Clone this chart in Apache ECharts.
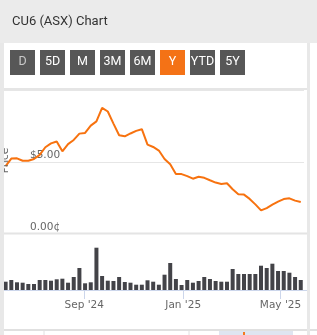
<!DOCTYPE html>
<html>
<head>
<meta charset="utf-8">
<script src="https://cdn.jsdelivr.net/npm/echarts@6/dist/echarts.min.js"></script>
<style>
html,body{margin:0;padding:0;background:#fff;}
#c{width:317px;height:335px;}
</style>
</head>
<body>
<div id="c"></div>
<script>
// ---- data ----
var dates = ['2024-05-27','2024-06-03','2024-06-10','2024-06-17','2024-06-24','2024-07-01','2024-07-08','2024-07-15','2024-07-22','2024-07-29',
  '2024-08-05','2024-08-12','2024-08-19','2024-08-26','2024-09-02','2024-09-09','2024-09-16','2024-09-23','2024-09-30','2024-10-07',
  '2024-10-14','2024-10-21','2024-10-28','2024-11-04','2024-11-11','2024-11-18','2024-11-25','2024-12-02','2024-12-09','2024-12-16',
  '2024-12-23','2024-12-30','2025-01-06','2025-01-13','2025-01-20','2025-01-27','2025-02-03','2025-02-10','2025-02-17','2025-02-24',
  '2025-03-03','2025-03-10','2025-03-17','2025-03-24','2025-03-31','2025-04-07','2025-04-14','2025-04-21','2025-04-28','2025-05-05',
  '2025-05-12','2025-05-19','2025-05-26'];
var prices = [4.69,5.22,5.24,5.07,5.07,5.19,5.48,6.01,6.28,6.41,
  5.73,6.23,6.52,6.96,7.01,7.52,7.81,8.76,8.50,7.66,
  6.85,6.77,6.97,7.15,7.27,6.19,6.03,5.78,5.19,4.83,
  4.14,4.14,4.00,3.82,3.95,3.88,3.71,3.55,3.45,3.50,
  3.08,2.74,2.71,2.41,2.03,1.61,1.77,2.01,2.22,2.40,
  2.45,2.29,2.19];
var volumes = [830,1000,770,730,600,600,1000,1000,930,1070,
  1130,730,1300,2200,670,770,4230,1400,930,900,
  1300,800,730,530,530,970,830,530,1530,2700,
  1100,500,1000,730,900,1300,1100,900,830,830,
  2100,1600,1600,1600,1600,2430,2200,2630,1900,1900,
  1730,1300,1000];
var tickDates = ['2024-09-01','2025-01-01','2025-05-01'];
var tickLabels = ["Sep '24","Jan '25","May '25"];
var priceTicks = [0,5];
var priceTickLabels = ['0.00\u00a2','$5.00'];
var buttons = ['D','5D','M','3M','6M','Y','YTD','5Y'];
var activeButton = 'Y';

function ts(s){var p=s.split('-');return Date.UTC(+p[0],+p[1]-1,+p[2]);}
var tickTs = tickDates.map(ts);
var xMin = ts('2024-05-25');
var xMax = ts('2025-05-30');

var graphics = [
  {type:'rect', shape:{x:0,y:0,width:317,height:43}, style:{fill:'#ebebeb'}, z:10},
  {type:'text', x:12, y:21.5, style:{text:'CU6 (ASX) Chart', fill:'#333', font:'13px Roboto', textVerticalAlign:'middle'}, z:11},
  {type:'line', shape:{x1:4,y1:89,x2:307,y2:89}, style:{stroke:'#dcdcdc', lineWidth:1.5}, z:10},
  {type:'line', shape:{x1:4,y1:233.5,x2:307,y2:233.5}, style:{stroke:'#e4e4e4', lineWidth:2}, z:10},
  {type:'line', shape:{x1:304,y1:290.5,x2:307,y2:290.5}, style:{stroke:'#ccd6eb', lineWidth:1}, z:10},
  {type:'text', x:5, y:160.5, rotation:Math.PI/2, style:{text:'Price', fill:'#666', font:'10.5px "DejaVu Sans"', textAlign:'center', textVerticalAlign:'middle'}, z:10},
  {type:'rect', shape:{x:0,y:43,width:4,height:292}, style:{fill:'#e8e8e8'}, z:20},
  {type:'rect', shape:{x:307,y:43,width:3,height:292}, style:{fill:'#e8e8e8'}, z:20},
  {type:'line', shape:{x1:0,y1:330,x2:317,y2:330}, style:{stroke:'#e0e0e0', lineWidth:2}, z:10},
  {type:'line', shape:{x1:44,y1:330,x2:44,y2:335}, style:{stroke:'#e0e0e0', lineWidth:1}, z:10},
  {type:'line', shape:{x1:189,y1:330,x2:189,y2:335}, style:{stroke:'#e0e0e0', lineWidth:1}, z:10},
  {type:'rect', shape:{x:219,y:331,width:74,height:4}, style:{fill:'#dfe5f1'}, z:10},
  {type:'rect', shape:{x:243,y:332,width:2,height:3}, style:{fill:'#f47a1f'}, z:11}
];
buttons.forEach(function(b,i){
  var x = 10 + i*30;
  graphics.push({type:'rect', shape:{x:x,y:50,width:25,height:25}, style:{fill: b===activeButton ? '#f47216' : '#575757'}, z:10});
  graphics.push({type:'text', x:x+12.5, y:62, style:{text:b, fill: b==='D' ? '#c8c8c8' : '#fff', font:'12.5px Roboto', textAlign:'center', textVerticalAlign:'middle'}, z:11});
});

var chart = echarts.init(document.getElementById('c'));
chart.setOption({
  animation:false,
  backgroundColor:'#fff',
  grid:[
    {left:4, width:300, top:90, height:143.5},
    {left:4, width:300, top:235, height:55}
  ],
  xAxis:[
    {type:'value', gridIndex:0, min:xMin, max:xMax, show:false, splitLine:{show:false}},
    {type:'value', gridIndex:1, min:xMin, max:xMax,
      axisLine:{lineStyle:{color:'#ccd6eb'}},
      axisTick:{customValues:tickTs, length:9, lineStyle:{color:'#ccd6eb'}},
      axisLabel:{customValues:tickTs, color:'#666', fontFamily:'DejaVu Sans', fontSize:10.5, margin:10, hideOverlap:false,
        formatter:function(v){var k=tickTs.indexOf(v);return k>=0?tickLabels[k]:'';}},
      splitLine:{show:false}
    }
  ],
  yAxis:[
    {type:'value', gridIndex:0, min:0, max:10, interval:5,
      axisLine:{show:false}, axisTick:{show:false},
      splitLine:{lineStyle:{color:'#e6e6e6'}},
      axisLabel:{inside:true, margin:26, color:'#666', fontFamily:'DejaVu Sans', fontSize:10.5, verticalAlign:'bottom', padding:[0,0,1,0],
        formatter:function(v){var k=priceTicks.indexOf(v);return k>=0?priceTickLabels[k]:'';}}
    },
    {type:'value', gridIndex:1, min:0, max:5500, show:false}
  ],
  series:[
    {type:'line', xAxisIndex:0, yAxisIndex:0, showSymbol:false,
      data:dates.map(function(d,i){return [ts(d),prices[i]];}),
      lineStyle:{color:'#f7720f', width:2}, itemStyle:{color:'#f7720f'}},
    {type:'bar', xAxisIndex:1, yAxisIndex:1, barWidth:4,
      data:dates.map(function(d,i){return [ts(d),volumes[i]];}),
      itemStyle:{color:'#434348'}}
  ],
  graphic:graphics
});
</script>
</body>
</html>
